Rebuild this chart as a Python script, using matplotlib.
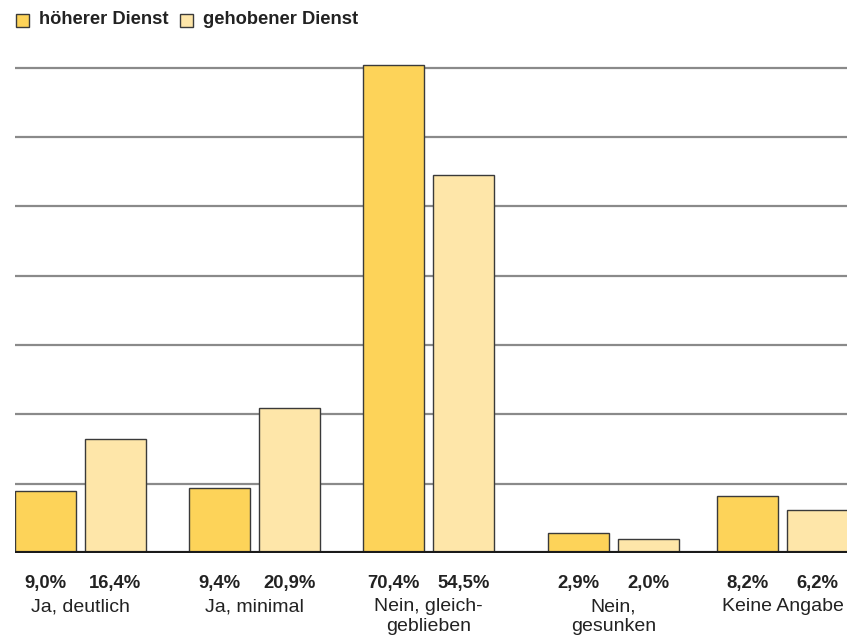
import numpy as np
import matplotlib.pyplot as plt
from matplotlib.patches import Rectangle

plt.rcParams['font.family'] = ['Liberation Sans', 'DejaVu Sans']

categories = ['Ja, deutlich', 'Ja, minimal', 'Nein, gleich-\ngeblieben',
              'Nein,\ngesunken', 'Keine Angabe']
hoeherer = [9.0, 9.4, 70.4, 2.9, 8.2]
gehobener = [16.4, 20.9, 54.5, 2.0, 6.2]
labels_h = ['9,0%', '9,4%', '70,4%', '2,9%', '8,2%']
labels_g = ['16,4%', '20,9%', '54,5%', '2,0%', '6,2%']
series_names = ['höherer Dienst', 'gehobener Dienst']

# layout (pixel-ish x units, group centres as in the original)
centers = np.array([80, 254.5, 428.5, 613.5, 782.5])
off = 35
w = 61
c_dark = '#FDD359'
c_light = '#FEE6A9'
edge = '#3a3a3a'
txt = '#222222'

W, H = 847, 636
fig = plt.figure(figsize=(W / 100, H / 100), dpi=100)
ax = fig.add_axes([15 / W, 1 - 553 / H, 1 - 15 / W, 499 / H])

ax.bar(centers - off, hoeherer, w, color=c_dark, edgecolor=edge, linewidth=1, zorder=3)
ax.bar(centers + off, gehobener, w, color=c_light, edgecolor=edge, linewidth=1, zorder=3)

for g in range(10, 80, 10):
    ax.axhline(g, color='#8a8a8a', linewidth=1.6, zorder=1)
ax.axhline(0, color='#1a1a1a', linewidth=3, zorder=4)

ax.set_xlim(15, 847)
ax.set_ylim(0, 72)
ax.axis('off')

for i in range(len(categories)):
    ax.text(centers[i] - off, -3.2, labels_h[i], ha='center', va='top',
            fontsize=13.3, fontweight='bold', color=txt)
    ax.text(centers[i] + off, -3.2, labels_g[i], ha='center', va='top',
            fontsize=13.3, fontweight='bold', color=txt)
    ax.text(centers[i], -6.5, categories[i], ha='center', va='top',
            fontsize=14, color=txt, linespacing=1.2)

# legend
fig.add_artist(Rectangle((16 / W, 1 - 27 / H), 13 / W, 13 / H, transform=fig.transFigure,
                         facecolor=c_dark, edgecolor=edge, linewidth=1))
fig.text(39 / W, 1 - 20 / H, series_names[0], ha='left', va='center',
         fontsize=13.2, fontweight='bold', color=txt)
fig.add_artist(Rectangle((180 / W, 1 - 27 / H), 13 / W, 13 / H, transform=fig.transFigure,
                         facecolor=c_light, edgecolor=edge, linewidth=1))
fig.text(203 / W, 1 - 20 / H, series_names[1], ha='left', va='center',
         fontsize=13.2, fontweight='bold', color=txt)

fig.savefig('out.png', dpi=100)
